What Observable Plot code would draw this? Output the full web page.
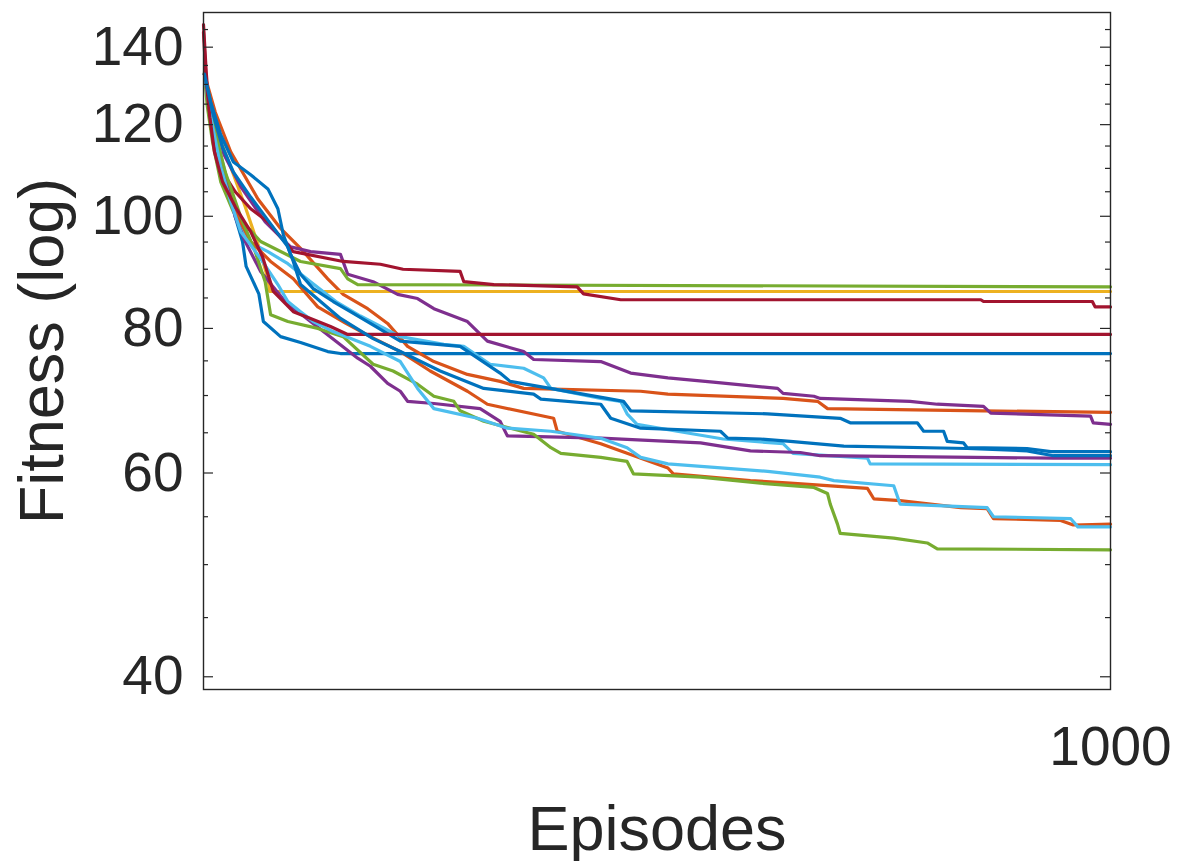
<!DOCTYPE html>
<html><head><meta charset="utf-8">
<script src="https://cdn.jsdelivr.net/npm/d3@7"></script>
<script src="https://cdn.jsdelivr.net/npm/@observablehq/plot@0.6"></script>
<style>body{margin:0;background:#fff}</style>
</head><body><div id="chart"></div>
<script>
// [episode, fitness] for each run
const blue1 = [[1,132.7],[6,125.5],[13,115.9],[24,107.1],[35,99.9],[43,95.1],[47,90.5],[61,85.7],[66,81.1],[85,78.7],[107,77.8],[137,76.4],[151,76.1],[1000,76.1]];
const orange1 = [[1,132.7],[13,123.0],[30,113.7],[60,103.5],[85,97.6],[107,93.8],[137,88.3],[154,85.6],[181,83.2],[203,80.8],[225,77.2],[254,74.9],[291,73.0],[327,72.0],[353,71.0],[482,70.6],[512,70.2],[639,69.6],[677,69.2],[688,68.2],[860,67.9],[1000,67.7]];
const yellow1 = [[1,132.7],[8,124.2],[15,118.3],[30,110.3],[46,101.9],[61,94.1],[71,88.3],[73,86.1],[1000,86.1]];
const purple1 = [[1,132.7],[10,121.8],[21,113.7],[41,106.1],[68,98.9],[96,94.1],[118,93.2],[151,92.7],[159,89.1],[187,87.8],[214,85.6],[236,84.9],[254,83.2],[291,81.1],[313,78.0],[353,76.4],[364,75.2],[438,74.9],[471,73.2],[512,72.5],[562,71.9],[633,71.0],[639,70.3],[673,69.9],[680,69.6],[779,69.2],[809,68.8],[860,68.5],[868,67.6],[978,67.2],[981,66.3],[1000,66.1]];
const green1 = [[1,133.2],[4,124.8],[10,115.9],[19,107.1],[33,100.9],[63,95.1],[107,91.4],[151,90.1],[159,88.3],[170,87.3],[1000,86.9]];
const lightblue1 = [[1,132.7],[8,123.0],[21,111.4],[37,99.5],[49,95.1],[71,93.2],[93,91.0],[118,87.8],[146,84.4],[173,82.0],[217,78.7],[265,77.5],[287,77.2],[316,74.5],[353,73.9],[375,72.5],[383,71.0],[438,69.6],[460,69.2],[467,67.5],[478,66.1],[537,64.9],[573,64.2],[639,63.6],[650,62.4],[732,61.8],[735,61.1],[1000,61.0]];
const red1 = [[0,146.4],[3,133.2],[6,124.2],[11,115.9],[21,109.2],[35,105.0],[52,101.5],[71,98.9],[82,96.6],[99,93.2],[154,91.4],[195,90.9],[220,90.0],[283,89.6],[287,87.8],[320,87.3],[412,86.9],[419,85.7],[460,84.7],[857,84.7],[860,84.4],[980,84.4],[983,83.5],[1000,83.5]];
const blue2 = [[1,132.7],[8,125.5],[19,117.6],[33,111.4],[52,108.6],[71,105.6],[82,101.5],[88,96.4],[96,92.7],[107,89.1],[121,86.6],[143,84.4],[162,82.7],[184,80.8],[217,78.0],[283,77.2],[327,73.2],[338,72.0],[445,69.6],[463,69.2],[471,67.9],[622,67.5],[702,66.9],[713,66.3],[787,66.3],[794,65.2],[816,65.2],[820,63.9],[838,63.7],[842,63.1],[908,63.0],[934,62.6],[1000,62.6]];
const orange2 = [[1,132.7],[11,120.6],[21,110.3],[35,100.9],[52,95.1],[74,91.4],[99,88.3],[126,83.5],[157,80.8],[184,78.7],[217,76.4],[250,73.5],[291,70.6],[313,68.8],[386,66.9],[390,65.2],[438,63.6],[467,62.4],[512,60.6],[518,59.9],[603,59.1],[647,58.8],[732,58.2],[739,57.0],[768,56.8],[835,56.0],[864,55.9],[871,54.8],[945,54.6],[959,54.1],[1000,54.2]];
const purple2 = [[1,132.7],[10,120.6],[24,108.2],[35,99.9],[46,95.1],[63,89.6],[90,84.4],[118,81.1],[146,78.0],[170,75.4],[184,74.2],[203,71.7],[217,70.6],[225,69.2],[254,68.9],[305,68.2],[327,66.5],[335,64.6],[438,64.3],[548,63.7],[603,62.7],[658,62.5],[680,62.1],[937,61.8],[1000,61.8]];
const green2 = [[1,132.7],[10,120.6],[24,109.2],[41,99.9],[57,93.2],[68,87.8],[74,82.2],[93,81.1],[126,80.0],[154,78.7],[187,74.5],[209,73.5],[236,71.6],[254,69.9],[276,69.2],[283,67.9],[309,66.5],[364,64.8],[383,63.1],[394,62.4],[438,61.9],[467,61.4],[474,59.9],[548,59.5],[614,58.8],[673,58.3],[688,57.6],[691,56.4],[699,54.2],[702,53.2],[761,52.7],[798,52.2],[809,51.6],[1000,51.5]];
const lightblue2 = [[1,132.7],[8,121.8],[19,110.3],[30,102.9],[41,97.0],[63,91.9],[82,87.3],[93,84.4],[107,82.7],[121,81.1],[143,79.5],[184,77.2],[217,74.9],[236,71.0],[254,68.2],[302,66.9],[335,65.6],[383,65.2],[438,64.3],[467,63.1],[482,61.9],[512,61.1],[622,60.2],[680,59.5],[695,59.1],[761,58.5],[768,56.4],[864,56.0],[871,55.0],[956,54.8],[964,53.9],[1000,53.9]];
const red2 = [[0,144.2],[3,130.6],[7,121.8],[12,113.7],[21,107.1],[35,101.9],[52,97.0],[65,92.3],[77,86.1],[99,82.7],[118,81.6],[140,80.3],[159,79.05],[1000,79.05]];
const blue3 = [[1,132.7],[10,123.0],[21,114.8],[33,109.2],[52,103.9],[74,98.5],[93,94.1],[99,91.4],[107,87.3],[129,84.4],[151,81.6],[187,78.4],[217,76.4],[261,73.5],[309,71.0],[364,70.2],[372,69.5],[438,68.8],[449,66.9],[482,65.6],[570,65.2],[578,64.3],[614,64.2],[647,63.9],[706,63.3],[842,63.0],[908,62.7],[937,62.1],[1000,62.1]];

const yMajorTicks = [40, 60, 80, 100, 120, 140];
const yMinorTicks = [45, 50, 55, 65, 70, 75, 85, 90, 95, 105, 110, 115, 125, 130, 135, 145];
const xTicks = [1000];
const yLabel = "Fitness (log)";
const xLabel = "Episodes";

const runs = [blue1, orange1, yellow1, purple1, green1, lightblue1, red1, blue2, orange2, purple2, green2, lightblue2, red2, blue3];
const runColors = ["#0072BD", "#D95319", "#EDB120", "#7E2F8E", "#77AC30", "#4DBEEE", "#A2142F",
                   "#0072BD", "#D95319", "#7E2F8E", "#77AC30", "#4DBEEE", "#A2142F", "#0072BD"];

const W = 1180, H = 861, mL = 203, mR = 70, mT = 12, mB = 172;
const plotW = W - mL - mR;
const ink = "#262626";

const chart = Plot.plot({
  width: W, height: H,
  marginLeft: mL, marginRight: mR, marginTop: mT, marginBottom: mB,
  style: {fontFamily: "'Liberation Sans', Arial, Helvetica, sans-serif", color: ink, background: "#fff"},
  x: {domain: [0, 1000]},
  y: {type: "log", domain: [39, 150]},
  marks: [
    ...runs.map((r, i) => Plot.line(r, {x: d => d[0], y: d => d[1], stroke: runColors[i], strokeWidth: 3.2, strokeLinejoin: "round"})),
    Plot.ruleY(yMajorTicks, {y: d => d, insetRight: plotW - 10, stroke: ink, strokeWidth: 1.2}),
    Plot.ruleY(yMinorTicks, {y: d => d, insetRight: plotW - 5, stroke: ink, strokeWidth: 1.2}),
    Plot.ruleY(yMajorTicks, {y: d => d, insetLeft: plotW - 10, stroke: ink, strokeWidth: 1.2}),
    Plot.ruleY(yMinorTicks, {y: d => d, insetLeft: plotW - 5, stroke: ink, strokeWidth: 1.2}),
    Plot.frame({stroke: ink, strokeWidth: 1.4}),
    Plot.axisY({ticks: yMajorTicks, tickSize: 0, tickPadding: 20, fontSize: 55, label: null, tickFormat: d => String(d)}),
    Plot.axisX({ticks: xTicks, tickSize: 0, tickPadding: 36, fontSize: 55, label: null, tickFormat: d => String(d)}),
    Plot.text([yLabel], {text: d => d, frameAnchor: "left", rotate: -90, dx: -141, lineAnchor: "bottom", textAnchor: "middle", fontSize: 63, fill: ink}),
    Plot.text([xLabel], {text: d => d, frameAnchor: "bottom", dy: 160, lineAnchor: "bottom", textAnchor: "middle", fontSize: 63, fill: ink})
  ]
});
document.getElementById("chart").appendChild(chart);
</script>
</body></html>
